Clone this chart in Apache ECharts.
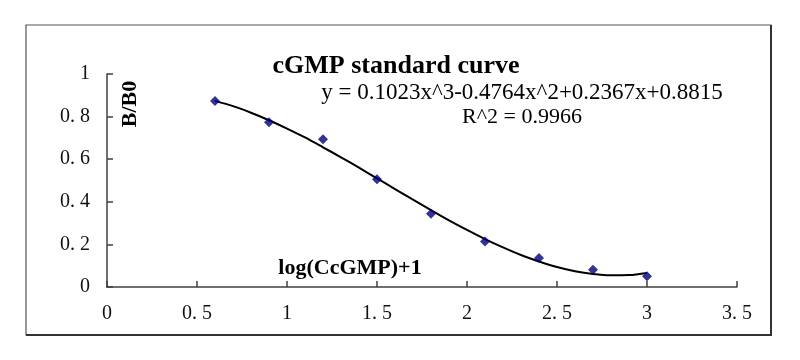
<!DOCTYPE html>
<html>
<head>
<meta charset="utf-8">
<script src="https://cdn.jsdelivr.net/npm/echarts@6/dist/echarts.min.js"></script>
<style>
html,body{margin:0;padding:0;background:#fff;}
#chart{width:800px;height:360px;}
</style>
</head>
<body>
<div id="chart"></div>
<script>
// Measured standards (log(CcGMP)+1 vs B/B0)
const xValues = [0.6, 0.9, 1.2, 1.5, 1.8, 2.1, 2.4, 2.7, 3.0];
const bValues = [0.873, 0.774, 0.694, 0.506, 0.344, 0.214, 0.136, 0.081, 0.050];
// Trend curve
const curveX = [0.6, 0.7, 0.8, 0.9, 1.0, 1.1, 1.2, 1.3, 1.4, 1.5, 1.6, 1.7, 1.8, 1.9, 2.0, 2.1, 2.2, 2.3, 2.4, 2.5, 2.6, 2.7, 2.8, 2.9, 3.0];
const curveY = [0.874, 0.849, 0.818, 0.783, 0.744, 0.702, 0.656, 0.609, 0.560, 0.510, 0.460, 0.410, 0.361, 0.313, 0.268, 0.225, 0.186, 0.150, 0.120, 0.094, 0.074, 0.061, 0.055, 0.056, 0.066];
// Tick labels
const xTickLabels = ['0', '0. 5', '1', '1. 5', '2', '2. 5', '3', '3. 5'];
const yTickLabels = ['0', '0. 2', '0. 4', '0. 6', '0. 8', '1'];
// Texts
const titleText = 'cGMP standard curve';
const equationText = 'y = 0.1023x^3-0.4764x^2+0.2367x+0.8815';
const r2Text = 'R^2 = 0.9966';
const xAxisName = 'log(CcGMP)+1';
const yAxisName = 'B/B0';

const chart = echarts.init(document.getElementById('chart'), null, {renderer: 'canvas'});
const serif = '"Liberation Serif", "Times New Roman", serif';
const tickFont = '"Liberation Serif", serif';

const option = {
  backgroundColor: '#ffffff',
  animation: false,
  title: {
    text: titleText,
    left: 391,
    top: 48,
    textAlign: 'center',
    textStyle: {fontFamily: serif, fontWeight: 'bold', fontSize: 26, color: '#000'}
  },
  grid: {left: 107, top: 74, width: 630, height: 213, containLabel: false},
  xAxis: {
    type: 'value', min: 0, max: 3.5, interval: 0.5,
    axisLine: {show: true, lineStyle: {color: '#404040', width: 1.5}},
    axisTick: {show: true, inside: true, length: 6, lineStyle: {color: '#404040', width: 1.5}},
    splitLine: {show: false},
    axisLabel: {
      margin: 17, fontFamily: tickFont, fontSize: 20, color: '#111',
      formatter: function (v) { return xTickLabels[Math.round(v / 0.5)]; }
    }
  },
  yAxis: {
    type: 'value', min: 0, max: 1, interval: 0.2,
    axisLine: {show: true, lineStyle: {color: '#404040', width: 1.5}},
    axisTick: {show: true, inside: true, length: 6, lineStyle: {color: '#404040', width: 1.5}},
    splitLine: {show: false},
    axisLabel: {
      margin: 17, fontFamily: tickFont, fontSize: 20, color: '#111',
      formatter: function (v) { return yTickLabels[Math.round(v / 0.2)]; }
    }
  },
  series: [
    {
      type: 'line',
      data: curveX.map((x, i) => [x, curveY[i]]),
      showSymbol: false,
      smooth: 0.3,
      lineStyle: {color: '#000', width: 2},
      z: 2
    },
    {
      type: 'scatter',
      data: xValues.map((x, i) => [x, bValues[i]]),
      symbol: 'diamond',
      symbolSize: 10,
      itemStyle: {color: '#00007a'},
      z: 3
    }
  ],
  graphic: [
    {type: 'rect', shape: {x: 26, y: 25, width: 745, height: 310}, style: {fill: 'none', stroke: '#555', lineWidth: 1.2}, z: 0},
    {type: 'line', shape: {x1: 771, y1: 25, x2: 771, y2: 336}, style: {stroke: '#333', lineWidth: 2}, z: 0},
    {type: 'line', shape: {x1: 26, y1: 335, x2: 772, y2: 335}, style: {stroke: '#333', lineWidth: 2}, z: 0},
    {type: 'text', x: 522, y: 93, style: {text: equationText, font: '23px ' + serif, fill: '#000', textAlign: 'center', textVerticalAlign: 'middle'}, z: 5},
    {type: 'text', x: 522, y: 117, style: {text: r2Text, font: '22px ' + serif, fill: '#000', textAlign: 'center', textVerticalAlign: 'middle'}, z: 5},
    {type: 'text', x: 350, y: 268, style: {text: xAxisName, font: 'bold 22px ' + serif, fill: '#000', textAlign: 'center', textVerticalAlign: 'middle'}, z: 5},
    {type: 'text', x: 130, y: 104, rotation: Math.PI / 2, style: {text: yAxisName, font: 'bold 22px ' + serif, fill: '#000', textAlign: 'center', textVerticalAlign: 'middle'}, z: 5}
  ]
};
chart.setOption(option);
</script>
</body>
</html>
